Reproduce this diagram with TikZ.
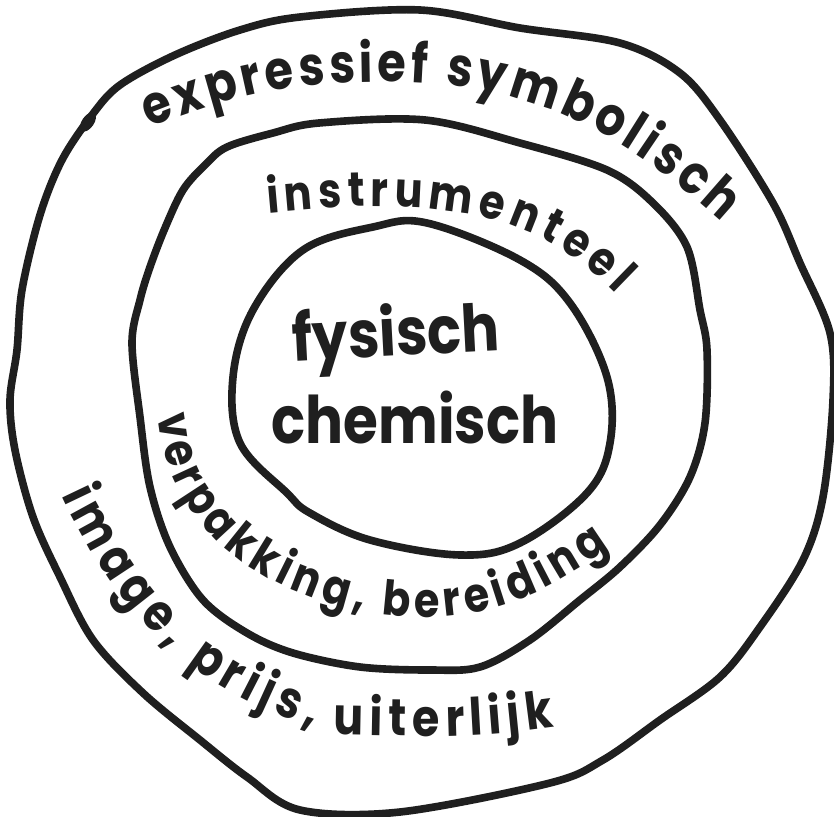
\documentclass[tikz,border=0pt]{standalone}
\usepackage{fontspec}
\setmainfont{Poppins}
\newfontfamily\handfam{Poppins}[FakeStretch=0.86]
\usetikzlibrary{decorations.text}
\newcommand\handfont{\handfam\fontsize{44}{48}\selectfont\bfseries}
\newcommand\handfontsmall{\handfam\fontsize{41}{45}\selectfont\bfseries}
\newcommand\handfontwide{\handfam\fontsize{46}{50}\selectfont\bfseries}
\newcommand\handfontbig{\handfam\fontsize{56}{60}\selectfont\bfseries}
\tikzset{
  ring/.style={line width=6.5pt, line join=round, line cap=round, draw=black!88},
  hand/.style={font=\handfontbig, text=black!88, inner sep=0pt},
  curved/.style 2 args={decorate, decoration={text along path, text align={fit to path},
      text color=black!88, text={|#1|#2}}}
}
\begin{document}
\begin{tikzpicture}[x=0.03cm, y=0.03cm]
  \useasboundingbox[fill=white] (0,-817) rectangle (834,0);

  % outer ring, with the thick spot where the pen started
  \draw[ring] plot[smooth cycle, tension=0.55] coordinates {
    (120,-85) (175,-55) (240,-30) (300,-17) (420,-10) (520,-28) (620,-43) (680,-73)
    (720,-120) (773,-203) (800,-263) (830,-333) (833,-400) (823,-497) (803,-560)
    (760,-627) (720,-677) (660,-720) (603,-760) (550,-783) (400,-812) (300,-810)
    (247,-777) (200,-740) (143,-693) (93,-640) (60,-577) (33,-517) (15,-450)
    (10,-400) (17,-350) (22,-290) (40,-215) (62,-160) (92,-115)};
  \fill[black!88, rotate around={55:(88,-122)}] (88,-122) ellipse [x radius=11, y radius=6];

  % middle ring
  \draw[ring] plot[smooth cycle, tension=0.55] coordinates {
    (227,-147) (273,-133) (319,-123) (425,-120) (520,-143) (607,-170) (653,-203)
    (687,-247) (700,-310) (707,-350) (705,-423) (690,-477) (660,-525) (620,-567)
    (580,-600) (530,-640) (480,-667) (430,-670) (360,-667) (293,-653) (247,-633)
    (203,-600) (170,-547) (150,-487) (140,-417) (132,-343) (140,-300) (150,-267)
    (165,-228) (183,-190) (205,-165)};

  % inner ring
  \draw[ring] plot[smooth cycle, tension=0.6] coordinates {
    (303,-250) (373,-227) (427,-223) (520,-260) (570,-303) (607,-377) (610,-443)
    (587,-493) (520,-543) (460,-555) (370,-540) (310,-513) (287,-493) (240,-443)
    (233,-377) (253,-310)};

  % core labels
  \node[hand, anchor=base, rotate=3] (fys) at (397,-356) {fysisch};
  \node[hand, anchor=base] (chem) at (415,-443) {chemisch};

  % labels written along the rings
  \path[curved={\handfontwide}{expressief symbolisch}]
    (150,-128) to[out=22,in=180] (385,-82) to[out=0,in=138] (722,-222);
  \path[curved={\handfontsmall}{instrumenteel}]
    (268,-213) to[out=5,in=178] (400,-207) to[out=-2,in=135] (616,-294);
  \path[curved={\handfontsmall}{verpakking, bereiding}]
    (158,-415) to[out=-85,in=172] (380,-614) to[out=-8,in=-145] (610,-548);
  \path[curved={\handfont}{image, prijs, uiterlijk}]
    (62,-495) to[out=-65,in=165] (340,-735) to[out=-1,in=188] (555,-727);
\end{tikzpicture}
\end{document}
